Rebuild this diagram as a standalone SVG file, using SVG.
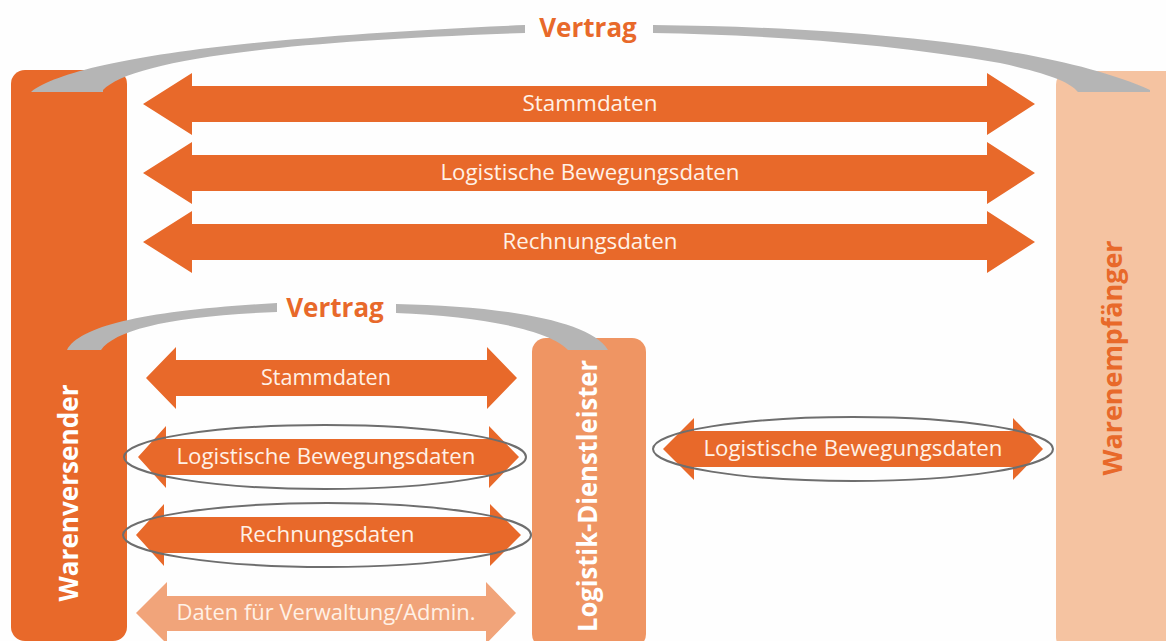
<svg xmlns="http://www.w3.org/2000/svg" width="1166" height="641" viewBox="0 0 1166 641">
  <style>
    .lbl { font-family: "Open Sans", "Noto Sans", sans-serif; font-size: 21px; fill: #FFF1E6; text-anchor: middle; }
    .vt { font-family: "Open Sans", "Noto Sans", sans-serif; font-weight: bold; font-size: 26px; fill: #E8692A; text-anchor: middle; }
    .node { font-family: "Open Sans", "Noto Sans", sans-serif; font-weight: bold; font-size: 26px; text-anchor: middle; }
    .arr { fill: #E8692A; }
    .arrl { fill: #F1A47A; }
    .arc { fill: #B5B5B5; }
    .ring { fill: none; stroke: #6E6E6E; stroke-width: 2; }
  </style>
  <rect x="0" y="0" width="1166" height="641" fill="#FEFEFE"/>

  <g id="warenversender">
    <rect x="11" y="70" width="116" height="571" rx="14" fill="#E8692A"/>
    <text class="node" fill="#FFFFFF" transform="translate(78,493) rotate(-90)" textLength="217" lengthAdjust="spacingAndGlyphs">Warenversender</text>
  </g>

  <g id="logistik-dienstleister">
    <rect x="532" y="338" width="114" height="310" rx="14" fill="#EF9563"/>
    <text class="node" fill="#FFFFFF" transform="translate(597,496) rotate(-90)" textLength="272" lengthAdjust="spacingAndGlyphs">Logistik-Dienstleister</text>
  </g>

  <g id="warenempfaenger">
    <rect x="1056" y="71" width="130" height="580" rx="14" fill="#F5C3A1"/>
    <text class="node" fill="#E8692A" transform="translate(1122,358) rotate(-90)" textLength="235" lengthAdjust="spacingAndGlyphs">Warenempfänger</text>
  </g>

  <g id="connectors">
    <!-- top contract arcs -->
    <path class="arc" d="M 31,92 C 70,62 220,38 525,25 L 525,33 C 260,42 130,62 103,90 L 103,92 Z"/>
    <path class="arc" d="M 653,25 C 850,27 1050,45 1150,90 L 1150,92 L 1078,92 C 1070,82 1050,74 1000,63 C 880,42 760,35 653,33 Z"/>
    <text class="vt" x="588" y="37">Vertrag</text>

    <!-- lower contract arcs -->
    <path class="arc" d="M 67,350 C 80,325 150,310 277,303 L 277,312 C 170,316 115,330 101,350 Z"/>
    <path class="arc" d="M 396,304 C 500,306 590,320 608,350 L 568,350 C 550,330 480,316 396,313 Z"/>
    <text class="vt" x="335" y="317">Vertrag</text>

    <!-- top arrows -->
    <path class="arr" d="M 143,104 L 192,73 L 192,86 L 987,86 L 987,73 L 1035,104 L 987,135 L 987,122 L 192,122 L 192,135 Z"/>
    <text class="lbl" x="590" y="111" textLength="135" lengthAdjust="spacingAndGlyphs">Stammdaten</text>
    <path class="arr" d="M 143,173 L 192,142 L 192,155 L 987,155 L 987,142 L 1035,173 L 987,204 L 987,191 L 192,191 L 192,204 Z"/>
    <text class="lbl" x="590" y="180" textLength="299" lengthAdjust="spacingAndGlyphs">Logistische Bewegungsdaten</text>
    <path class="arr" d="M 143,242 L 192,211 L 192,224 L 987,224 L 987,211 L 1035,242 L 987,273 L 987,260 L 192,260 L 192,273 Z"/>
    <text class="lbl" x="590" y="249" textLength="175" lengthAdjust="spacingAndGlyphs">Rechnungsdaten</text>

    <!-- lower left arrows -->
    <path class="arr" d="M 146,378 L 176,347 L 176,360 L 487,360 L 487,347 L 517,378 L 487,409 L 487,396 L 176,396 L 176,409 Z"/>
    <text class="lbl" x="326" y="385" textLength="130" lengthAdjust="spacingAndGlyphs">Stammdaten</text>

    <path class="arr" d="M 138,457 L 166,426 L 166,439 L 489,439 L 489,426 L 519,457 L 489,488 L 489,475 L 166,475 L 166,488 Z"/>
    <text class="lbl" x="326" y="464" textLength="299" lengthAdjust="spacingAndGlyphs">Logistische Bewegungsdaten</text>
    <ellipse class="ring" cx="325" cy="457" rx="201" ry="32"/>

    <path class="arr" d="M 136,535 L 164,504 L 164,517 L 490,517 L 490,504 L 521,535 L 490,566 L 490,553 L 164,553 L 164,566 Z"/>
    <text class="lbl" x="327" y="542" textLength="175" lengthAdjust="spacingAndGlyphs">Rechnungsdaten</text>
    <ellipse class="ring" cx="327" cy="535" rx="204" ry="32"/>

    <path class="arrl" d="M 136,613 L 167,582 L 167,596 L 486,596 L 486,582 L 516,613 L 486,644 L 486,631 L 167,631 L 167,644 Z"/>
    <text class="lbl" x="326" y="620" textLength="299" lengthAdjust="spacingAndGlyphs">Daten für Verwaltung/Admin.</text>

    <!-- right middle arrow -->
    <path class="arr" d="M 663,449 L 694,418 L 694,431 L 1013,431 L 1013,418 L 1043,449 L 1013,480 L 1013,467 L 694,467 L 694,480 Z"/>
    <text class="lbl" x="853" y="456" textLength="299" lengthAdjust="spacingAndGlyphs">Logistische Bewegungsdaten</text>
    <ellipse class="ring" cx="853" cy="449" rx="200" ry="32"/>
  </g>
</svg>
